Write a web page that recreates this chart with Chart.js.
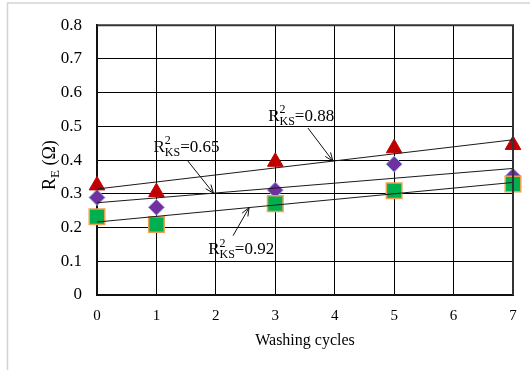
<!DOCTYPE html>
<html>
<head>
<meta charset="utf-8">
<script src="https://cdn.jsdelivr.net/npm/chart.js@4.4.1/dist/chart.umd.min.js"></script>
<style>
  html, body { margin: 0; padding: 0; background: #fff; }
  #wrap { position: absolute; left: 0; top: 0; width: 530px; height: 370px; }
</style>
</head>
<body>
<div id="wrap"><canvas id="c" width="530" height="370"></canvas></div>
<script>
// Washing cycles and measured electrode resistance R_E (Ω) for three samples
const cycles = [0, 1, 3, 5, 7];
const seriesTriangle = [0.325, 0.305, 0.395, 0.435, 0.445];
const seriesDiamond  = [0.289, 0.260, 0.311, 0.388, 0.352];
const seriesSquare   = [0.232, 0.209, 0.271, 0.309, 0.329];
const xTickLabels = ['0', '1', '2', '3', '4', '5', '6', '7'];
const yTickLabels = ['0', '0.1', '0.2', '0.3', '0.4', '0.5', '0.6', '0.7', '0.8'];
const r2Labels = ['0.88', '0.65', '0.92'];

const SERIF = '"Liberation Serif", "Times New Roman", serif';

// least-squares linear fit used for the trendlines
function fit(xs, ys) {
  const n = xs.length;
  const mx = xs.reduce((a, b) => a + b, 0) / n;
  const my = ys.reduce((a, b) => a + b, 0) / n;
  let sxy = 0, sxx = 0;
  for (let i = 0; i < n; i++) { sxy += (xs[i] - mx) * (ys[i] - my); sxx += (xs[i] - mx) ** 2; }
  const slope = sxy / sxx;
  return { slope, intercept: my - slope * mx };
}
const fits = [fit(cycles, seriesTriangle), fit(cycles, seriesDiamond), fit(cycles, seriesSquare)];
const xMin = 0, xMax = 7;
const trend = f => [{ x: xMin, y: f.intercept }, { x: xMax, y: f.intercept + f.slope * xMax }];
const pts = ys => cycles.map((x, i) => ({ x, y: ys[i] }));

// label placement: text anchor and arrow start in data units, arrow tip on the fit line at tipX
const notes = [
  { label: r2Labels[0], fitIndex: 0, textX: 2.88, textY: 0.517, fromX: 3.55, fromY: 0.495, tipX: 3.97 },
  { label: r2Labels[1], fitIndex: 1, textX: 0.95, textY: 0.425, fromX: 1.53, fromY: 0.397, tipX: 1.96 },
  { label: r2Labels[2], fitIndex: 2, textX: 1.87, textY: 0.121, fromX: 2.29, fromY: 0.176, tipX: 2.56 }
];

const framePlugin = {
  id: 'frame',
  beforeDraw(chart) {
    const ctx = chart.ctx;
    ctx.save();
    ctx.fillStyle = '#fff';
    ctx.fillRect(0, 0, chart.width, chart.height);
    ctx.strokeStyle = '#d4d4d4';
    ctx.lineWidth = 1.5;
    ctx.strokeRect(7.5, 3, 800, 800);
    ctx.restore();
  }
};

function drawR2(ctx, x, y, value, size) {
  ctx.font = size + 'px ' + SERIF;
  ctx.fillText('R', x, y);
  x += ctx.measureText('R').width;
  const small = Math.round(size * 0.7);
  ctx.font = small + 'px ' + SERIF;
  ctx.fillText('2', x, y - size * 0.45);
  ctx.fillText('KS', x, y + size * 0.25);
  x += ctx.measureText('KS').width;
  ctx.font = size + 'px ' + SERIF;
  ctx.fillText('=' + value, x, y);
}

const labelsPlugin = {
  id: 'labels',
  afterDatasetsDraw(chart) {
    const ctx = chart.ctx;
    const xs = chart.scales.x, ys = chart.scales.y;
    ctx.save();
    ctx.fillStyle = '#000';
    ctx.strokeStyle = '#111';
    ctx.lineWidth = 1;
    ctx.textBaseline = 'alphabetic';
    ctx.textAlign = 'left';
    notes.forEach(n => {
      const f = fits[n.fitIndex];
      const tx = xs.getPixelForValue(n.tipX);
      const ty = ys.getPixelForValue(f.intercept + f.slope * n.tipX);
      const fx = xs.getPixelForValue(n.fromX);
      const fy = ys.getPixelForValue(n.fromY);
      ctx.beginPath();
      ctx.moveTo(fx, fy);
      ctx.lineTo(tx, ty);
      const ang = Math.atan2(ty - fy, tx - fx);
      const L = 9, spread = 0.38;
      ctx.moveTo(tx - L * Math.cos(ang - spread), ty - L * Math.sin(ang - spread));
      ctx.lineTo(tx, ty);
      ctx.lineTo(tx - L * Math.cos(ang + spread), ty - L * Math.sin(ang + spread));
      ctx.stroke();
      drawR2(ctx, xs.getPixelForValue(n.textX), ys.getPixelForValue(n.textY), n.label, 17);
    });
    // vertical axis title with subscript
    const cy = (chart.chartArea.top + chart.chartArea.bottom) / 2 + 5;
    ctx.translate(55, cy);
    ctx.rotate(-Math.PI / 2);
    const size = 18;
    ctx.font = size + 'px ' + SERIF;
    const wR = ctx.measureText('R').width;
    const rest = ' (Ω)';
    const wRest = ctx.measureText(rest).width;
    ctx.font = Math.round(size * 0.7) + 'px ' + SERIF;
    const wE = ctx.measureText('E').width;
    let x = -(wR + wE + wRest) / 2;
    ctx.font = size + 'px ' + SERIF;
    ctx.fillText('R', x, 0);
    x += wR;
    ctx.font = Math.round(size * 0.7) + 'px ' + SERIF;
    ctx.fillText('E', x, size * 0.22);
    x += wE;
    ctx.font = size + 'px ' + SERIF;
    ctx.fillText(rest, x, 0);
    ctx.restore();
  }
};

new Chart(document.getElementById('c'), {
  type: 'scatter',
  data: {
    datasets: [
      { data: trend(fits[0]), showLine: true, borderColor: '#1a1a1a', borderWidth: 1, pointRadius: 0, order: 0, clip: false },
      { data: trend(fits[1]), showLine: true, borderColor: '#1a1a1a', borderWidth: 1, pointRadius: 0, order: 0, clip: false },
      { data: trend(fits[2]), showLine: true, borderColor: '#1a1a1a', borderWidth: 1, pointRadius: 0, order: 0, clip: false },
      { data: pts(seriesSquare), pointStyle: 'rect', pointRadius: 11, backgroundColor: '#00b050', borderColor: '#f0a050', borderWidth: 1.5, order: 1, clip: false },
      { data: pts(seriesTriangle), pointStyle: 'triangle', pointRadius: 9, backgroundColor: '#c00000', borderColor: '#c00000', borderWidth: 1, order: 2, clip: false },
      { data: pts(seriesDiamond), pointStyle: 'rectRot', pointRadius: 8, backgroundColor: '#7030a0', borderColor: '#8fb4e3', borderWidth: 1, order: 3, clip: false }
    ]
  },
  options: {
    responsive: false,
    animation: false,
    events: [],
    layout: { padding: { left: 0, right: 17, top: 19, bottom: 0 } },
    plugins: { legend: { display: false }, tooltip: { enabled: false } },
    scales: {
      x: {
        type: 'linear', min: xMin, max: xMax,
        afterFit(s) { s.height = 75; },
        afterBuildTicks(s) { s.ticks = xTickLabels.map(v => ({ value: Number(v) })); },
        ticks: { stepSize: 1, color: '#000', padding: 12, font: { family: SERIF, size: 15 },
                 callback: (v, i) => xTickLabels[i] },
        grid: { color: '#000', lineWidth: 1, drawTicks: false },
        border: { color: '#111', width: 2 },
        title: { display: true, text: 'Washing cycles', color: '#000', font: { family: SERIF, size: 16 }, padding: { top: 0, bottom: 20 } }
      },
      y: {
        type: 'linear', min: 0, max: 0.8,
        afterFit(s) { s.width = 97; },
        afterBuildTicks(s) { s.ticks = yTickLabels.map(v => ({ value: Number(v) })); },
        ticks: { stepSize: 0.1, color: '#000', padding: 15, font: { family: SERIF, size: 17 },
                 callback: (v, i) => yTickLabels[i] },
        grid: { color: '#000', lineWidth: 1, drawTicks: false },
        border: { color: '#111', width: 2 }
      }
    }
  },
  plugins: [framePlugin, labelsPlugin, {
    id: 'box',
    afterDraw(chart) {
      const { left, right, top } = chart.chartArea;
      const ctx = chart.ctx;
      ctx.save();
      ctx.strokeStyle = '#333';
      ctx.lineWidth = 2;
      ctx.beginPath();
      ctx.moveTo(left, top);
      ctx.lineTo(right, top);
      ctx.lineTo(right, chart.chartArea.bottom);
      ctx.stroke();
      ctx.restore();
    }
  }]
});
</script>
</body>
</html>
